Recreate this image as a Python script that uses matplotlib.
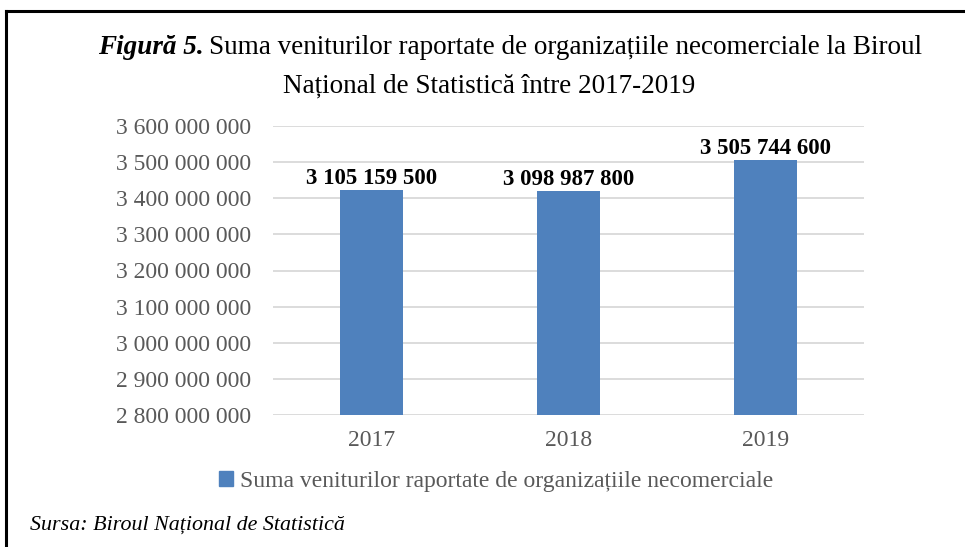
import matplotlib.pyplot as plt
from matplotlib.lines import Line2D

# data
years = ["2017", "2018", "2019"]
# bar heights as drawn in the source chart
bar_values = [3422800000, 3420000000, 3506000000]
# value labels as printed in the source chart
value_labels = ["3 105 159 500", "3 098 987 800", "3 505 744 600"]
yticks = [2800000000 + i * 100000000 for i in range(9)]
ytick_labels = ["2 800 000 000", "2 900 000 000", "3 000 000 000", "3 100 000 000",
                "3 200 000 000", "3 300 000 000", "3 400 000 000", "3 500 000 000",
                "3 600 000 000"]
series_name = "Suma veniturilor raportate de organizațiile necomerciale"

plt.rcParams['font.family'] = ['Liberation Serif', 'DejaVu Serif']

W, H = 965, 547
fig = plt.figure(figsize=(W / 100, H / 100), dpi=100)

# frame lines (top and left only)
fig.add_artist(Line2D([5.5 / W, 1], [1 - 11 / H, 1 - 11 / H], color='black', lw=2.2))
fig.add_artist(Line2D([5.5 / W, 5.5 / W], [0, 1 - 11 / H], color='black', lw=2.2))

ax = fig.add_axes([273 / W, 1 - 415 / H, 591 / W, 289 / H])
x = range(len(years))
bars = ax.bar(x, bar_values, width=0.32, color='#4f81bd', zorder=3)
ax.set_xlim(-0.5, 2.5)
ax.set_ylim(2800000000, 3600000000)
ax.set_yticks(yticks)
ax.set_yticklabels(ytick_labels)
ax.set_xticks(list(x))
ax.set_xticklabels(years)
ax.grid(axis='y', color='#d9d9d9', lw=1.3, zorder=0)
for s in ax.spines.values():
    s.set_visible(False)
ax.tick_params(length=0, labelsize=17, colors='#595959')
ax.tick_params(axis='y', pad=16)
ax.tick_params(axis='x', pad=11)

for b, lab in zip(bars, value_labels):
    ax.text(b.get_x() + b.get_width() / 2, b.get_height() + 4000000, lab,
            ha='center', va='bottom', fontsize=16.5, fontweight='bold', color='black')

# title, line 1 built from an italic part and a plain part, centred together
fs_title = 19.5
t1 = fig.text(0, 1 - 54 / H, "Figură 5.", fontsize=fs_title, style='italic',
              fontweight='bold', va='baseline', ha='left')
t2 = fig.text(0, 1 - 54 / H,
              "Suma veniturilor raportate de organizațiile necomerciale la Biroul",
              fontsize=fs_title, va='baseline', ha='left')
fig.canvas.draw()
r = fig.canvas.get_renderer()
w1 = t1.get_window_extent(r).width
w2 = t2.get_window_extent(r).width
gap = 6
x0 = 510 - (w1 + gap + w2) / 2
t1.set_x(x0 / W)
t2.set_x((x0 + w1 + gap) / W)
fig.text(489 / W, 1 - 93 / H, "Național de Statistică între 2017-2019",
         fontsize=fs_title, va='baseline', ha='center')

ax.legend([plt.Rectangle((0, 0), 1, 1, color='#4f81bd')], [series_name],
          loc='center', bbox_to_anchor=(496 / W, 1 - 481 / H),
          bbox_transform=fig.transFigure, frameon=False, fontsize=17,
          handlelength=0.6, handleheight=0.6, handletextpad=0.3,
          borderpad=0, labelcolor='#595959')

fig.text(30 / W, 1 - 525 / H, "Sursa: Biroul Național de Statistică",
         fontsize=15.8, style='italic', va='center', ha='left')

fig.savefig("out.png", dpi=100)
